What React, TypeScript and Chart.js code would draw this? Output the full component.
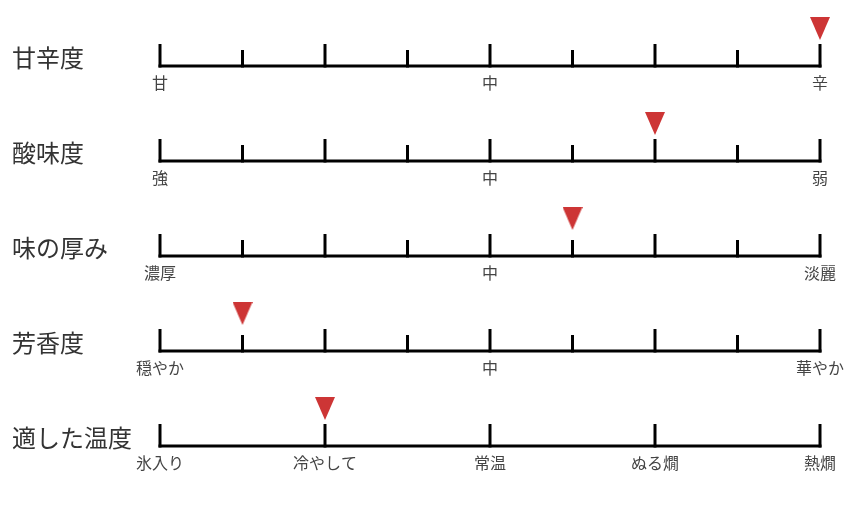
import React, { useEffect, useRef } from "react";
import { Chart, registerables } from "chart.js";

Chart.register(...registerables);

// Row titles (top to bottom)
const rowTitles = ["甘辛度", "酸味度", "味の厚み", "芳香度", "適した温度"];
// Marker values on a 0..8 scale
const markerValues = [8, 6, 5, 1, 2];
// Tick positions per row (0..8)
const tickPositions = [
  [0, 1, 2, 3, 4, 5, 6, 7, 8],
  [0, 1, 2, 3, 4, 5, 6, 7, 8],
  [0, 1, 2, 3, 4, 5, 6, 7, 8],
  [0, 1, 2, 3, 4, 5, 6, 7, 8],
  [0, 2, 4, 6, 8],
];
// Tick labels per row: [position, text]
const tickLabels: [number, string][][] = [
  [[0, "甘"], [4, "中"], [8, "辛"]],
  [[0, "強"], [4, "中"], [8, "弱"]],
  [[0, "濃厚"], [4, "中"], [8, "淡麗"]],
  [[0, "穏やか"], [4, "中"], [8, "華やか"]],
  [[0, "氷入り"], [2, "冷やして"], [4, "常温"], [6, "ぬる燗"], [8, "熱燗"]],
];

const FONT = '"Noto Sans CJK JP", "Noto Sans", sans-serif';

function makeMarker(): HTMLCanvasElement {
  const c = document.createElement("canvas");
  c.width = 20;
  c.height = 100;
  const g = c.getContext("2d")!;
  g.fillStyle = "#cd3535";
  g.beginPath();
  g.moveTo(0, 1);
  g.lineTo(20, 1);
  g.lineTo(10, 24);
  g.closePath();
  g.fill();
  return c;
}

const rulerPlugin = {
  id: "ruler",
  beforeDatasetsDraw(chart: any) {
    const ctx = chart.ctx;
    const xs = chart.scales.x;
    const ys = chart.scales.y;
    ctx.save();
    for (let i = 0; i < rowTitles.length; i++) {
      const y = ys.getPixelForValue(i);
      const x0 = xs.getPixelForValue(0);
      const x1 = xs.getPixelForValue(8);
      ctx.strokeStyle = "#000";
      ctx.lineWidth = 3;
      ctx.lineCap = "butt";
      ctx.beginPath();
      ctx.moveTo(x0 - 1.5, y);
      ctx.lineTo(x1 + 1.5, y);
      ctx.stroke();
      for (const p of tickPositions[i]) {
        const x = xs.getPixelForValue(p);
        const major = p % 2 === 0;
        ctx.beginPath();
        ctx.moveTo(x, y + 1.5);
        ctx.lineTo(x, y - (major ? 22 : 16));
        ctx.stroke();
      }
      ctx.fillStyle = "#333";
      ctx.font = `24px ${FONT}`;
      ctx.textAlign = "left";
      ctx.textBaseline = "middle";
      ctx.fillText(rowTitles[i], 12, y - 8.5);
      ctx.fillStyle = "#444";
      ctx.font = `16px ${FONT}`;
      ctx.textAlign = "center";
      for (const [p, t] of tickLabels[i]) {
        ctx.fillText(t, xs.getPixelForValue(p), y + 17);
      }
    }
    ctx.restore();
  },
};

export default function App() {
  const ref = useRef<HTMLCanvasElement>(null);
  useEffect(() => {
    document.body.style.margin = "0";
    const marker = makeMarker();
    const chart = new Chart(ref.current!, {
      type: "scatter",
      data: {
        datasets: [
          {
            data: markerValues.map((v, i) => ({ x: v, y: i })),
            pointStyle: marker as any,
            pointRadius: 5,
            clip: false as any,
          },
        ],
      },
      options: {
        animation: false,
        responsive: false,
        events: [],
        layout: { padding: { left: 160, right: 30, top: 66, bottom: 60 } },
        plugins: { legend: { display: false }, tooltip: { enabled: false } },
        scales: {
          x: { type: "linear", min: 0, max: 8, display: false },
          y: { type: "linear", min: 0, max: 4, reverse: true, display: false },
        },
      },
      plugins: [rulerPlugin],
    });
    return () => chart.destroy();
  }, []);
  return (
    <div style={{ width: 850, height: 506 }}>
      <canvas ref={ref} width={850} height={506} style={{ width: 850, height: 506 }} />
    </div>
  );
}
